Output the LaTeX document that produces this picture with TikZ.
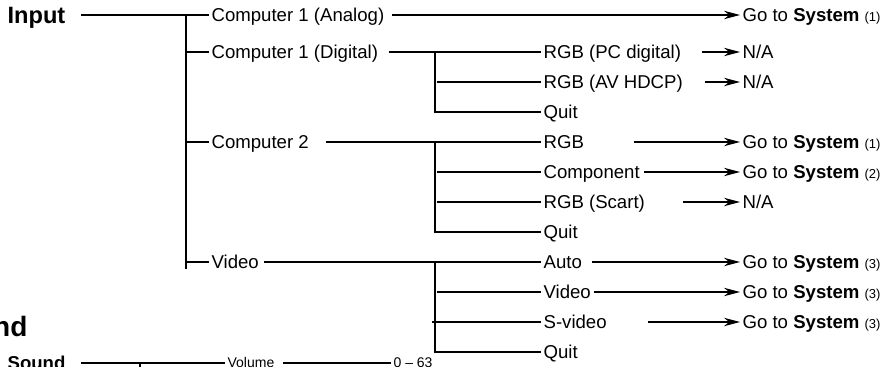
\documentclass[tikz,border=0pt]{standalone}
\usepackage{fontspec}
\setmainfont{Liberation Sans}
\usetikzlibrary{arrows.meta, calc}

\tikzset{
  item/.style={font=\fontsize{9.3}{11}\selectfont, inner xsep=1pt, inner ysep=0pt, text height=6.7pt, text depth=0pt, anchor=west},
  headtext/.style={item, font=\fontsize{11.8}{14}\selectfont\bfseries, text height=8.45pt},
  smalltext/.style={item, font=\fontsize{7}{8}\selectfont, text height=5pt},
  goarrow/.style={-{Stealth[length=8pt,width=4.2pt]}}
}
\newcommand{\gosys}[1]{Go to \textbf{System} {\fontsize{6.5}{7}\selectfont(#1)}}

\begin{document}
\begin{tikzpicture}[x=0.5pt, y=-0.5pt, line width=0.6pt]
  \clip (0,0) rectangle (894,367);

  \node[headtext] (input) at (5,15) {Input};
  \node[item] (ana) at (209,15) {Computer 1 (Analog)};
  \node[item] (dig) at (209,52) {Computer 1 (Digital)};
  \node[item] (cptwo) at (209,142) {Computer 2};
  \node[item] (vid) at (209,262) {Video};

  \node[item] (pcdig) at (541,52) {RGB (PC digital)};
  \node[item] (hdcp) at (541,82) {RGB (AV HDCP)};
  \node[item] (quita) at (541,112) {Quit};
  \node[item] (rgb) at (541,142) {RGB};
  \node[item] (comp) at (541,172) {Component};
  \node[item] (scart) at (541,202) {RGB (Scart)};
  \node[item] (quitb) at (541,232) {Quit};
  \node[item] (auto) at (541,262) {Auto};
  \node[item] (video) at (541,292) {Video};
  \node[item] (svid) at (541,322) {S-video};
  \node[item] (quitc) at (541,352) {Quit};

  \node[item] (goa) at (740,15) {\gosys{1}};
  \node[item] (naa) at (740,52) {N/A};
  \node[item] (nab) at (740,82) {N/A};
  \node[item] (gob) at (740,142) {\gosys{1}};
  \node[item] (goc) at (740,172) {\gosys{2}};
  \node[item] (nac) at (740,202) {N/A};
  \node[item] (god) at (740,262) {\gosys{3}};
  \node[item] (goe) at (740,292) {\gosys{3}};
  \node[item] (gof) at (740,322) {\gosys{3}};

  \coordinate (trunk) at (186,15);
  \coordinate (trunkend) at (186,269);
  \coordinate (bus) at (435,0);

  \draw ($(input.east)+(13,0)$) -- (ana.west);
  \draw (trunk) -- (trunkend);
  \foreach \n in {dig,cptwo,vid}
    \draw (\n.west -| trunk) -- (\n.west);

  \draw ($(dig.east)+(8,0)$) -- (pcdig.west);
  \draw ($(cptwo.east)+(15,0)$) -- (rgb.west);
  \draw ($(vid.east)+(3,0)$) -- (auto.west);
  \draw (pcdig.west -| bus) |- (quita.west);
  \draw (rgb.west -| bus) |- (quitb.west);
  \draw (auto.west -| bus) |- (quitc.west);
  \foreach \n/\s in {hdcp/2, comp/2, scart/2, video/2, svid/-3}
    \draw ($(\n.west -| bus)+(\s,0)$) -- (\n.west);

  \foreach \a/\b/\g in {ana/goa/5, pcdig/naa/18, hdcp/nab/20, rgb/gob/47, comp/goc/2, scart/nac/36, auto/god/8, video/goe/1, svid/gof/39}
    \draw[goarrow] ($(\a.east)+(\g,0)$) -- (\b.west);

  \node[font=\fontsize{14}{16}\selectfont\bfseries, inner sep=0pt, anchor=base east] (sndhead) at (28,337) {Sound};
  \node[item, font=\fontsize{9.3}{11}\selectfont\bfseries] (snd) at (5,363) {Sound};
  \node[smalltext] (vol) at (225,363) {Volume};
  \node[smalltext] (volrange) at (391,363) {0 -- 63};
  \coordinate (sndbus) at (140,363);
  \coordinate (sndbusend) at (140,380);

  \draw ($(snd.east)+(13,0)$) -- (vol.west);
  \draw (sndbus) -- (sndbusend);
  \draw ($(vol.east)+(6,0)$) -- (volrange.west);
\end{tikzpicture}
\end{document}
